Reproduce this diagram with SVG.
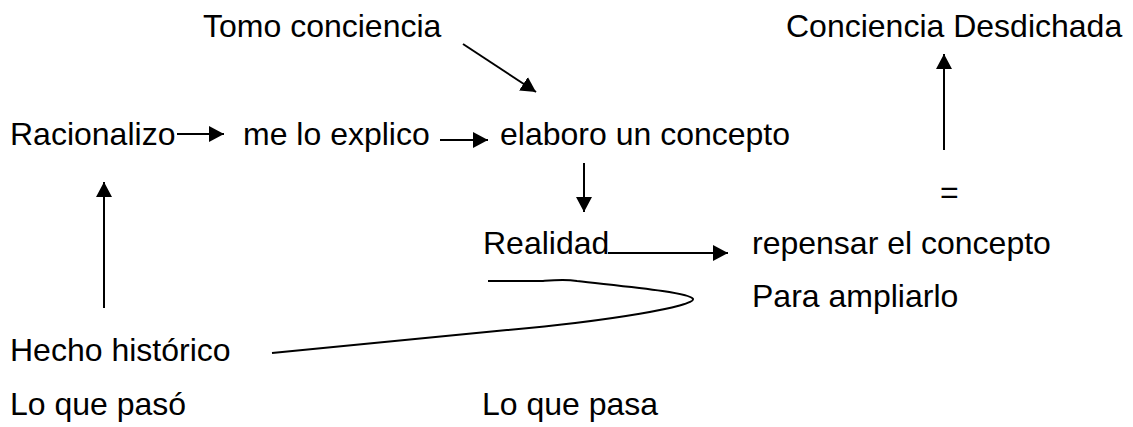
<svg xmlns="http://www.w3.org/2000/svg" width="1133" height="427" viewBox="0 0 1133 427">
<style>
text{font-family:"Liberation Sans",Arial,sans-serif;font-size:32px;fill:#000}
.c{stroke:#000;stroke-width:2;fill:none}
</style>
<defs>
<marker id="ah" markerUnits="userSpaceOnUse" markerWidth="16" markerHeight="16" refX="15" refY="8" orient="auto">
<path d="M0,0 L15,8 L0,16 z" fill="#000"/>
</marker>
</defs>
<rect width="1133" height="427" fill="#fff"/>
<g id="connectors">
<line class="c" x1="177" y1="134" x2="224" y2="134" marker-end="url(#ah)"/>
<line class="c" x1="440" y1="140" x2="488" y2="140" marker-end="url(#ah)"/>
<line class="c" x1="463" y1="44" x2="536" y2="92" marker-end="url(#ah)"/>
<line class="c" x1="584" y1="163" x2="584" y2="212" marker-end="url(#ah)"/>
<line class="c" x1="944" y1="150" x2="944" y2="54" marker-end="url(#ah)"/>
<line class="c" x1="104" y1="308" x2="104" y2="182" marker-end="url(#ah)"/>
<line class="c" x1="608" y1="253" x2="728" y2="253" marker-end="url(#ah)"/>
<path class="c" d="M488,281 L543,281 C555,280 565,279 577,281 C620,286 690,292 693,299 C696,306 610,321 507,330 L272,353"/>
</g>
<g id="n-tomo"><text x="203" y="37">Tomo conciencia</text></g>
<g id="n-desdichada"><text x="786" y="37">Conciencia Desdichada</text></g>
<g id="n-racionalizo"><text x="10" y="145">Racionalizo</text></g>
<g id="n-explico"><text x="243" y="145">me lo explico</text></g>
<g id="n-elaboro"><text x="500" y="145">elaboro un concepto</text></g>
<g id="n-igual"><text x="940" y="203">=</text></g>
<g id="n-realidad"><text x="483" y="254">Realidad</text></g>
<g id="n-repensar"><text x="752" y="254">repensar el concepto</text><text x="752" y="307">Para ampliarlo</text></g>
<g id="n-hecho"><text x="10" y="361">Hecho histórico</text><text x="10" y="415">Lo que pasó</text></g>
<g id="n-pasa"><text x="482" y="415">Lo que pasa</text></g>
</svg>
